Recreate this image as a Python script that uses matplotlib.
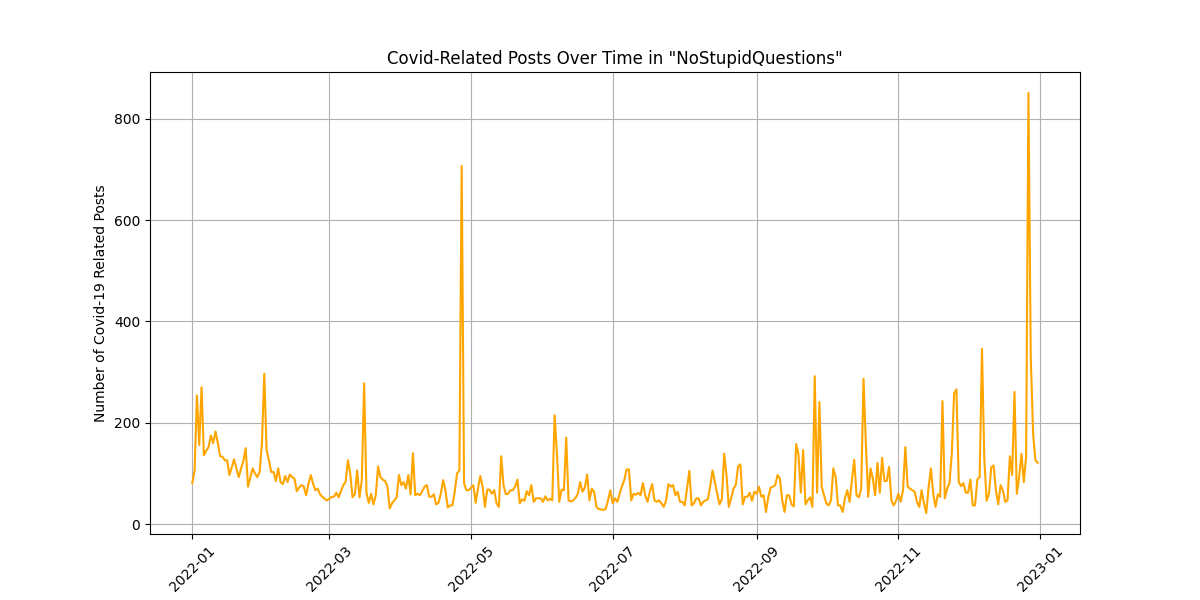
import numpy as np
import pandas as pd
import matplotlib
matplotlib.use('Agg')
import matplotlib.pyplot as plt
import matplotlib.dates as mdates

# daily counts of covid-related posts, 2022, one list per month
jan = [81, 106, 254, 156, 270, 136, 145, 152, 175, 160, 183, 160, 134, 133, 126, 126,
       97, 112, 128, 110, 93, 110, 125, 150, 74, 92, 110, 100, 93, 103, 160]
feb = [297, 146, 126, 103, 103, 85, 110, 83, 79, 95, 83, 98, 93, 90, 65, 72, 77, 74,
       57, 79, 97, 80, 67, 70, 59, 54, 50, 47]
mar = [50, 54, 54, 62, 53, 65, 77, 83, 126, 100, 53, 59, 106, 53, 87, 278, 61, 42,
       60, 39, 57, 114, 93, 88, 85, 75, 31, 41, 47, 53, 97]
apr = [77, 83, 70, 97, 59, 140, 57, 60, 57, 65, 74, 77, 54, 54, 59, 39, 42, 60, 87,
       67, 33, 37, 37, 64, 100, 106, 707, 81, 67, 67]
may = [72, 77, 42, 70, 95, 74, 34, 68, 68, 60, 67, 41, 34, 134, 77, 59, 60, 67, 67,
       74, 88, 41, 49, 46, 65, 57, 77, 44, 51, 51, 51]
jun = [44, 55, 47, 50, 47, 215, 139, 44, 68, 67, 171, 47, 45, 47, 52, 60, 83, 64, 72,
       98, 47, 70, 64, 34, 30, 29, 28, 30, 47, 67]
jul = [41, 51, 44, 60, 75, 87, 108, 108, 47, 60, 58, 62, 57, 81, 57, 44, 64, 79, 47,
       44, 47, 41, 34, 47, 79, 74, 77, 57, 64, 44, 44]
aug = [37, 70, 105, 37, 41, 51, 51, 37, 44, 47, 49, 75, 106, 83, 60, 39, 49, 139, 97,
       34, 51, 70, 77, 114, 118, 39, 54, 54, 62, 46, 64]
sep = [60, 74, 54, 57, 24, 54, 72, 74, 77, 97, 90, 47, 24, 57, 57, 39, 35, 158, 137,
       62, 146, 39, 47, 53, 34, 292, 62, 241, 74, 57]
oct_ = [41, 37, 47, 110, 93, 37, 37, 24, 51, 67, 44, 87, 127, 57, 53, 70, 287, 159,
        54, 110, 90, 57, 121, 62, 131, 85, 85, 113, 47, 37, 46]
nov = [60, 44, 67, 152, 74, 70, 67, 64, 44, 34, 67, 41, 22, 72, 110, 60, 34, 59, 54,
       243, 51, 70, 81, 139, 258, 266, 83, 75, 81, 62]
dec = [62, 88, 37, 37, 88, 93, 346, 129, 46, 60, 112, 116, 67, 39, 77, 67, 44, 47,
       134, 97, 261, 60, 93, 139, 83, 133, 851, 330, 179, 126, 121]

counts = jan + feb + mar + apr + may + jun + jul + aug + sep + oct_ + nov + dec
dates = pd.date_range('2022-01-01', periods=len(counts), freq='D')

fig, ax = plt.subplots(figsize=(12, 6), dpi=100)
ax.plot(dates, counts, color='orange', linewidth=1.5)

ax.set_title('Covid-Related Posts Over Time in "NoStupidQuestions"')
ax.set_ylabel('Number of Covid-19 Related Posts')
ax.xaxis.set_major_locator(mdates.MonthLocator(interval=2))
ax.xaxis.set_major_formatter(mdates.DateFormatter('%Y-%m'))
plt.setp(ax.get_xticklabels(), rotation=45)
ax.grid(True)

plt.savefig('out.png')
